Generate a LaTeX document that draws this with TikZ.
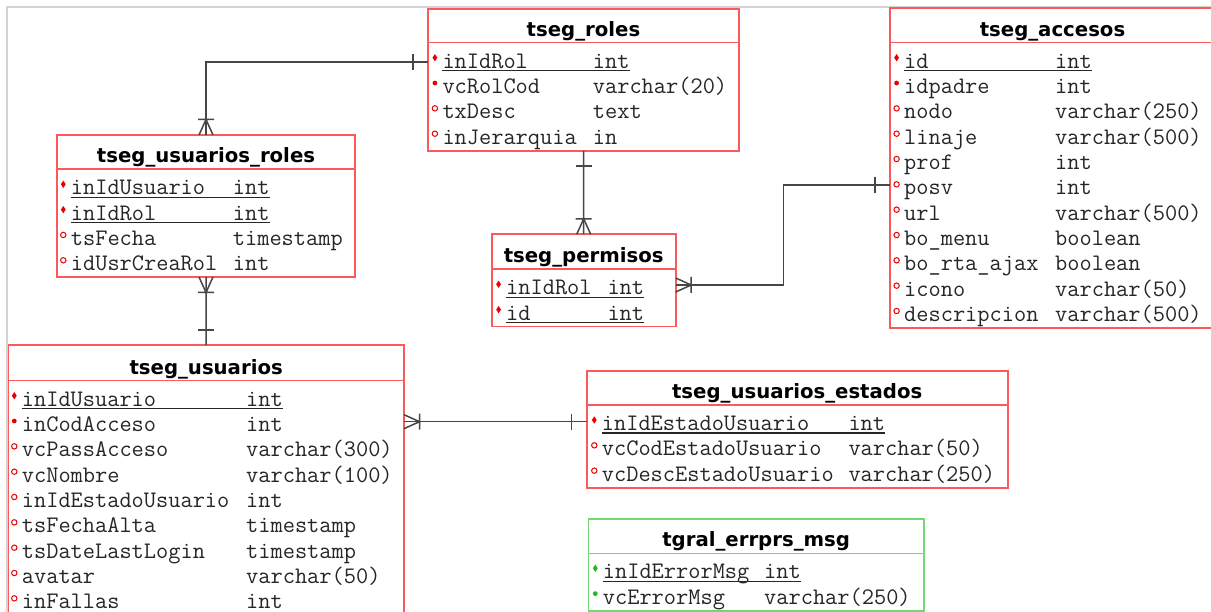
\documentclass[tikz,border=0pt]{standalone}
\usepackage{fontspec}
\usetikzlibrary{shapes.geometric}
\newfontfamily\hdrfont{DejaVu Sans}

\definecolor{erred}{RGB}{250,90,90}
\definecolor{ergreen}{RGB}{115,215,115}
\definecolor{mkred}{RGB}{232,0,0}
\definecolor{mkgreen}{RGB}{30,185,30}
\definecolor{linkgray}{RGB}{70,70,70}
\definecolor{framegray}{RGB}{212,212,212}
\definecolor{coltxt}{RGB}{38,38,38}

\tikzset{
  tabbox/.style={draw=#1, fill=white, line width=1.6pt, inner sep=0pt, outer sep=0pt,
                 anchor=north west, rectangle},
  sepline/.style={draw=#1, line width=1.6pt},
  tabtitle/.style={font=\hdrfont\bfseries\fontsize{19.7}{22}\selectfont, text=black,
                   inner sep=0pt, anchor=base},
  coltext/.style={font=\ttfamily\fontsize{23.7}{26}\selectfont, text=coltxt,
                  inner sep=0pt, anchor=base west},
  pkmark/.style={diamond, fill=#1, inner sep=0pt, minimum width=5pt, minimum height=7.5pt},
  nnmark/.style={circle, fill=#1, inner sep=0pt, minimum size=4.8pt},
  nlmark/.style={circle, draw=#1, line width=1pt, fill=white, inner sep=0pt, minimum size=5.4pt},
  uline/.style={draw=coltxt, line width=1.1pt},
  erlink/.style={draw=linkgray, line width=1.5pt},
}

% table frame: id, title, left, right, top, header rule y, bottom, colour
\newcommand\ertab[8]{%
  \node[tabbox=#8, minimum width={(#4-#3)*1pt}, minimum height={(#7-#5)*1pt}] (#1) at (#3,#5) {};
  \draw[sepline=#8] (#3,#6) -- (#4,#6);
  \node[tabtitle] (#1-title) at ({(#3+#4)/2},#6-6.6) {#2};
}
% field row: id, row no, name x, type x, header rule y, marker style, marker colour, name, type
\newcommand\errow[9]{%
  \pgfmathsetmacro\rowbase{#5+25.6+(#2-1)*25.33}
  \node[coltext] (#1-#2) at (#3,\rowbase) {#8};
  \node[coltext] (#1-#2t) at (#4,\rowbase) {#9};
  \node[#6=#7] (#1-#2m) at (#3-7.4,\rowbase-10.6) {};
  \coordinate (#1-#2c) at (#3,\rowbase-6.3);
}
% key underline of a row
\newcommand\erkey[2]{%
  \draw[uline] ([yshift=-2.4pt]#1-#2.base west) -- ([yshift=-2.4pt]#1-#2t.base east);
}
% relationship ends: point, direction of the outward side
\newcommand\oneend[2]{%
  \begin{scope}[shift={(#1)}, rotate=#2]
    \draw[erlink] (-8,15) -- (8,15);
  \end{scope}
}
\newcommand\manyend[2]{%
  \begin{scope}[shift={(#1)}, rotate=#2]
    \draw[erlink] (-7,0) -- (0,15.5) -- (7,0) (-8,15.5) -- (8,15.5);
  \end{scope}
}

\begin{document}
\begin{tikzpicture}[x=1pt, y=-1pt]
\useasboundingbox (0,0) rectangle (1211,612);
\clip (0,0) rectangle (1211,612);
\fill[white] (0,0) rectangle (1211,612);
\draw[framegray, line width=1.5pt] (7,612) -- (7,7) -- (1211,7);

% tseg_roles
\ertab{roles}{tseg\_roles}{428}{739}{9}{42.7}{151}{erred}
\errow{roles}{1}{442.3}{592.7}{42.7}{pkmark}{mkred}{inIdRol}{int}
\errow{roles}{2}{442.3}{592.7}{42.7}{nnmark}{mkred}{vcRolCod}{varchar(20)}
\errow{roles}{3}{442.3}{592.7}{42.7}{nlmark}{mkred}{txDesc}{text}
\errow{roles}{4}{442.3}{592.7}{42.7}{nlmark}{mkred}{inJerarquia}{in}
\erkey{roles}{1}

% tseg_usuarios_roles
\ertab{ur}{tseg\_usuarios\_roles}{57}{355}{135}{169.3}{277}{erred}
\errow{ur}{1}{70.7}{232.7}{169.3}{pkmark}{mkred}{inIdUsuario}{int}
\errow{ur}{2}{70.7}{232.7}{169.3}{pkmark}{mkred}{inIdRol}{int}
\errow{ur}{3}{70.7}{232.7}{169.3}{nlmark}{mkred}{tsFecha}{timestamp}
\errow{ur}{4}{70.7}{232.7}{169.3}{nlmark}{mkred}{idUsrCreaRol}{int}
\erkey{ur}{1}
\erkey{ur}{2}

% tseg_permisos
\ertab{perm}{tseg\_permisos}{491.7}{675.7}{234.3}{269.3}{326.7}{erred}
\errow{perm}{1}{506}{607.3}{269.3}{pkmark}{mkred}{inIdRol}{int}
\errow{perm}{2}{506}{607.3}{269.3}{pkmark}{mkred}{id}{int}
\erkey{perm}{1}
\erkey{perm}{2}

% tseg_accesos
\ertab{acc}{tseg\_accesos}{890}{1215}{8.3}{42.7}{328}{erred}
\errow{acc}{1}{904}{1055}{42.7}{pkmark}{mkred}{id}{int}
\errow{acc}{2}{904}{1055}{42.7}{nnmark}{mkred}{idpadre}{int}
\errow{acc}{3}{904}{1055}{42.7}{nlmark}{mkred}{nodo}{varchar(250)}
\errow{acc}{4}{904}{1055}{42.7}{nlmark}{mkred}{linaje}{varchar(500)}
\errow{acc}{5}{904}{1055}{42.7}{nlmark}{mkred}{prof}{int}
\errow{acc}{6}{904}{1055}{42.7}{nlmark}{mkred}{posv}{int}
\errow{acc}{7}{904}{1055}{42.7}{nlmark}{mkred}{url}{varchar(500)}
\errow{acc}{8}{904}{1055}{42.7}{nlmark}{mkred}{bo\_menu}{boolean}
\errow{acc}{9}{904}{1055}{42.7}{nlmark}{mkred}{bo\_rta\_ajax}{boolean}
\errow{acc}{10}{904}{1055}{42.7}{nlmark}{mkred}{icono}{varchar(50)}
\errow{acc}{11}{904}{1055}{42.7}{nlmark}{mkred}{descripcion}{varchar(500)}
\erkey{acc}{1}

% tseg_usuarios
\ertab{us}{tseg\_usuarios}{8.3}{404}{345}{380.7}{640}{erred}
\errow{us}{1}{21.7}{246}{380.7}{pkmark}{mkred}{inIdUsuario}{int}
\errow{us}{2}{21.7}{246}{380.7}{nnmark}{mkred}{inCodAcceso}{int}
\errow{us}{3}{21.7}{246}{380.7}{nlmark}{mkred}{vcPassAcceso}{varchar(300)}
\errow{us}{4}{21.7}{246}{380.7}{nlmark}{mkred}{vcNombre}{varchar(100)}
\errow{us}{5}{21.7}{246}{380.7}{nlmark}{mkred}{inIdEstadoUsuario}{int}
\errow{us}{6}{21.7}{246}{380.7}{nlmark}{mkred}{tsFechaAlta}{timestamp}
\errow{us}{7}{21.7}{246}{380.7}{nlmark}{mkred}{tsDateLastLogin}{timestamp}
\errow{us}{8}{21.7}{246}{380.7}{nlmark}{mkred}{avatar}{varchar(50)}
\errow{us}{9}{21.7}{246}{380.7}{nlmark}{mkred}{inFallas}{int}
\erkey{us}{1}

% tseg_usuarios_estados
\ertab{est}{tseg\_usuarios\_estados}{586.7}{1007.7}{371}{405}{488}{erred}
\errow{est}{1}{601.7}{848.3}{405}{pkmark}{mkred}{inIdEstadoUsuario}{int}
\errow{est}{2}{601.7}{848.3}{405}{nlmark}{mkred}{vcCodEstadoUsuario}{varchar(50)}
\errow{est}{3}{601.7}{848.3}{405}{nlmark}{mkred}{vcDescEstadoUsuario}{varchar(250)}
\erkey{est}{1}

% tgral_errprs_msg
\ertab{err}{tgral\_errprs\_msg}{588.3}{924}{519}{553.3}{610.7}{ergreen}
\errow{err}{1}{602.7}{764}{553.3}{pkmark}{mkgreen}{inIdErrorMsg}{int}
\errow{err}{2}{602.7}{764}{553.3}{nnmark}{mkgreen}{vcErrorMsg}{varchar(250)}
\erkey{err}{1}

% relationships
\coordinate (l-roles) at (roles.west |- roles-1c);
\draw[erlink] (l-roles) -| (ur.north);
\oneend{l-roles}{-90}
\manyend{ur.north}{180}

\draw[erlink] (ur.south) -- (us.north);
\manyend{ur.south}{0}
\oneend{us.north}{180}

\draw[erlink] (roles.south) -- (perm.north);
\oneend{roles.south}{0}
\manyend{perm.north}{180}

\coordinate (l-perm) at ([yshift=3.6pt]perm.east |- perm-1c);
\coordinate (l-acc) at ([yshift=3.7pt]acc.west |- acc-6c);
\draw[erlink] (l-perm) -- ++(107.6,0) |- (l-acc);
\manyend{l-perm}{90}
\oneend{l-acc}{-90}

\coordinate (l-est) at ([yshift=2.6pt]est.west |- est-1c);
\coordinate (l-us) at (us.east |- l-est);
\draw[erlink] (l-us) -- (l-est);
\manyend{l-us}{90}
\oneend{l-est}{-90}
\end{tikzpicture}
\end{document}
